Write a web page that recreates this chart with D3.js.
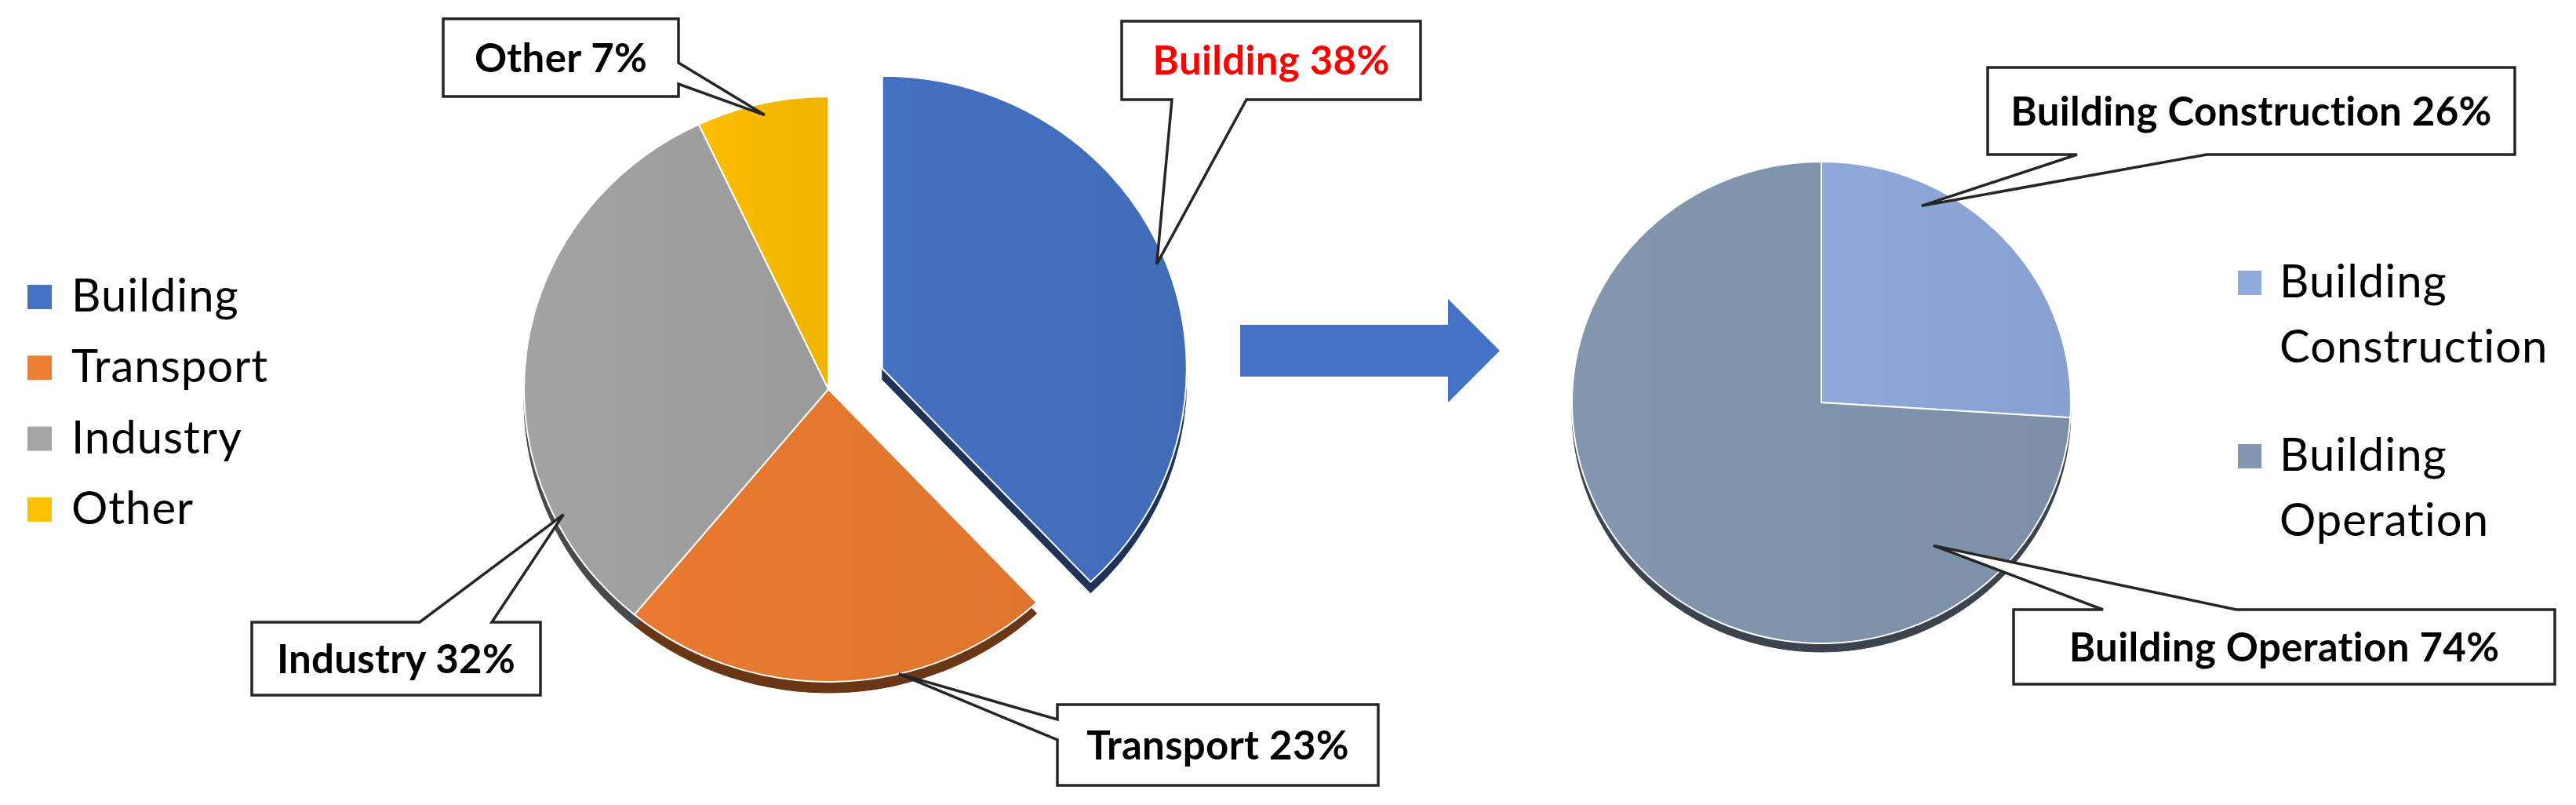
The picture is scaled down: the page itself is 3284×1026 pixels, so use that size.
<!DOCTYPE html>
<html>
<head>
<meta charset="utf-8">
<script src="https://cdn.jsdelivr.net/npm/d3@7"></script>
<style>
  body { margin: 0; background: #fff; }
  svg { display: block; }
</style>
</head>
<body>
<svg id="chart" width="3284" height="1026"></svg>
<script>
// Emissions share by sector, then breakdown of the building share
const sectors = ["Building", "Transport", "Industry", "Other"];
const sectorShares = [38, 23, 32, 7];
const sectorColors = ["#4472c4", "#ed7d31", "#a5a5a5", "#ffc000"];

const buildingParts = ["Building Construction", "Building Operation"];
const buildingShares = [26, 74];
const buildingColors = ["#8faadc", "#8497b0"];
const buildingLegend = [["Building", "Construction"], ["Building", "Operation"]];

const svg = d3.select("#chart");
const defs = svg.append("defs");
const labelFont = "Lato, 'Open Sans', sans-serif";

svg.append("rect").attr("width", 3284).attr("height", 1026).attr("fill", "#fff");

// 3D-ish pie: tilted ellipse + darker copy shifted down for the wall
const drawPie = ({ id, cx, cy, rx, ry, depth, values, colors, explode }) => {
  const k = ry / rx;
  const arcs = d3.pie().sort(null)(values);
  const arc = d3.arc().innerRadius(0).outerRadius(rx);
  const g = svg
    .append("g")
    .attr("transform", `translate(${cx},${cy}) scale(1,${k})`);

  const offset = i => {
    const d = arcs[i];
    const e = explode[i] || 0;
    const m = (d.startAngle + d.endAngle) / 2;
    return [e * Math.sin(m), -e * Math.cos(m)];
  };

  arcs.forEach((d, i) => {
    const c = d3.color(colors[i]);
    const grad = defs
      .append("linearGradient")
      .attr("id", `${id}-g${i}`)
      .attr("x1", 0).attr("x2", 1).attr("y1", 0).attr("y2", 0);
    grad.append("stop").attr("offset", "0%").attr("stop-color", c.brighter(0.05));
    grad.append("stop").attr("offset", "100%").attr("stop-color", c.darker(0.1));
  });

  g.selectAll(".wall")
    .data(arcs)
    .join("path")
    .attr("class", "wall")
    .attr("transform", (d, i) => {
      const [ox, oy] = offset(i);
      return `translate(${ox},${oy + depth / k})`;
    })
    .attr("d", arc)
    .attr("fill", (d, i) => d3.color(colors[i]).darker(2.2))
    .attr("stroke", (d, i) => d3.color(colors[i]).darker(2.2))
    .attr("stroke-width", 1);

  g.selectAll(".top")
    .data(arcs)
    .join("path")
    .attr("class", "top")
    .attr("transform", (d, i) => `translate(${offset(i)})`)
    .attr("d", arc)
    .attr("fill", (d, i) => `url(#${id}-g${i})`)
    .attr("stroke", "#fff")
    .attr("stroke-width", 2)
    .attr("vector-effect", "non-scaling-stroke");

  // screen point inside slice i: frac across the slice, r as share of radius
  return (i, frac, r) => {
    const d = arcs[i];
    const a = d.startAngle + frac * (d.endAngle - d.startAngle);
    const [ox, oy] = offset(i);
    return [
      cx + ox + r * rx * Math.sin(a),
      cy + (oy - r * rx * Math.cos(a)) * k
    ];
  };
};

const leftPoint = drawPie({
  id: "sec",
  cx: 1056, cy: 496, rx: 388, ry: 373, depth: 14,
  values: sectorShares,
  colors: sectorColors.map(c => d3.color(c).darker(0.08).formatHex()),
  explode: [74, 0, 0, 0]
});

const rightPoint = drawPie({
  id: "bld",
  cx: 2322, cy: 513, rx: 318, ry: 307, depth: 11,
  values: buildingShares,
  colors: buildingColors.map(c => d3.color(c).darker(0.06).formatHex()),
  explode: [0, 0]
});

// Block arrow between the two pies
const arrow = d3.path();
arrow.moveTo(1581, 414);
arrow.lineTo(1846, 414);
arrow.lineTo(1846, 381);
arrow.lineTo(1912, 447);
arrow.lineTo(1846, 513);
arrow.lineTo(1846, 480);
arrow.lineTo(1581, 480);
arrow.closePath();
svg.append("path").attr("d", arrow.toString()).attr("fill", "#4472c4");

// Callout boxes
const calloutPath = (b, tip) => {
  const { x, y, w, h, edge, p0, p1 } = b;
  const p = d3.path();
  p.moveTo(x, y);
  if (edge === "top") { p.lineTo(x + p0, y); p.lineTo(...tip); p.lineTo(x + p1, y); }
  p.lineTo(x + w, y);
  if (edge === "right") { p.lineTo(x + w, y + p0); p.lineTo(...tip); p.lineTo(x + w, y + p1); }
  p.lineTo(x + w, y + h);
  if (edge === "bottom") { p.lineTo(x + p1, y + h); p.lineTo(...tip); p.lineTo(x + p0, y + h); }
  p.lineTo(x, y + h);
  if (edge === "left") { p.lineTo(x, y + p1); p.lineTo(...tip); p.lineTo(x, y + p0); }
  p.closePath();
  return p.toString();
};

const callouts = [
  { text: `${sectors[3]} ${sectorShares[3]}%`, tip: leftPoint(3, 0.5, 0.96), color: "#000",
    box: { x: 565, y: 24, w: 300, h: 99, edge: "right", p0: 56, p1: 83 } },
  { text: `${sectors[0]} ${sectorShares[0]}%`, tip: leftPoint(0, 0.5, 0.97), color: "#ff0000",
    box: { x: 1430, y: 27, w: 381, h: 100, edge: "bottom", p0: 64, p1: 159 } },
  { text: `${sectors[2]} ${sectorShares[2]}%`, tip: leftPoint(2, 0.21, 0.97), color: "#000",
    box: { x: 321, y: 793, w: 368, h: 93, edge: "top", p0: 214, p1: 306 } },
  { text: `${sectors[1]} ${sectorShares[1]}%`, tip: leftPoint(1, 0.36, 1.0), color: "#000",
    box: { x: 1348, y: 898, w: 409, h: 103, edge: "left", p0: 19, p1: 45 } },
  { text: `${buildingParts[0]} ${buildingShares[0]}%`, tip: rightPoint(0, 0.28, 0.91), color: "#000",
    box: { x: 2534, y: 86, w: 672, h: 111, edge: "bottom", p0: 114, p1: 279 } },
  { text: `${buildingParts[1]} ${buildingShares[1]}%`, tip: rightPoint(1, 0.185, 0.745), color: "#000",
    box: { x: 2567, y: 777, w: 690, h: 95, edge: "top", p0: 114, p1: 284 } }
];

callouts.forEach(c => {
  svg.append("path")
    .attr("d", calloutPath(c.box, c.tip))
    .attr("fill", "#fff")
    .attr("stroke", "#262626")
    .attr("stroke-width", 3.5)
    .attr("stroke-linejoin", "miter");
  svg.append("text")
    .attr("x", c.box.x + c.box.w / 2)
    .attr("y", c.box.y + c.box.h / 2 + 18)
    .attr("text-anchor", "middle")
    .attr("font-family", labelFont)
    .attr("font-weight", 700)
    .attr("font-size", 51)
    .attr("letter-spacing", 0.3)
    .attr("fill", c.color)
    .text(c.text);
});

// Left legend
const legL = svg.append("g").attr("transform", "translate(35,363)");
sectors.forEach((s, i) => {
  const row = legL.append("g").attr("transform", `translate(0,${i * 90.3})`);
  row.append("rect").attr("width", 31).attr("height", 31).attr("fill", sectorColors[i]);
  row.append("text")
    .attr("x", 56).attr("y", 34)
    .attr("font-family", labelFont)
    .attr("font-size", 58)
    .attr("letter-spacing", 1)
    .attr("fill", "#000")
    .text(s);
});

// Right legend (two-line labels)
const legR = svg.append("g").attr("transform", "translate(2853,345)");
buildingLegend.forEach((lines, i) => {
  const row = legR.append("g").attr("transform", `translate(0,${i * 221})`);
  row.append("rect").attr("width", 30).attr("height", 31).attr("fill", buildingColors[i]);
  lines.forEach((t, j) => {
    row.append("text")
      .attr("x", 53).attr("y", 34 + j * 83)
      .attr("font-family", labelFont)
      .attr("font-size", 58)
      .attr("letter-spacing", 1)
      .attr("fill", "#000")
      .text(t);
  });
});
</script>
</body>
</html>
